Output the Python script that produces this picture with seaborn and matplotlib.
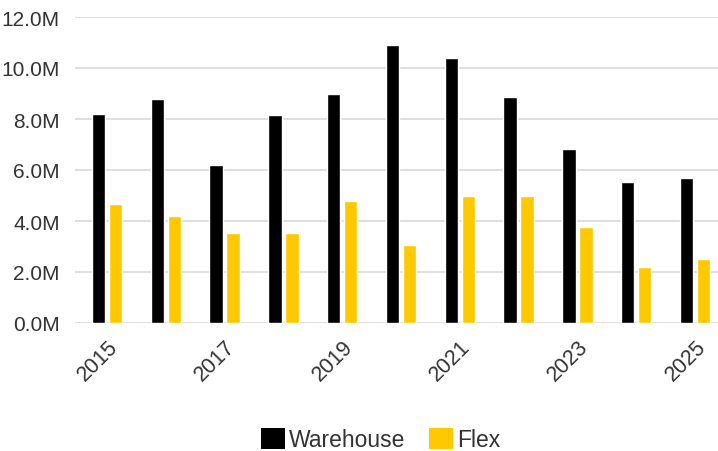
import matplotlib
matplotlib.use("Agg")
import matplotlib.pyplot as plt
import seaborn as sns
import pandas as pd
from matplotlib.ticker import FuncFormatter
from matplotlib.patches import Patch

years = [str(y) for y in range(2015, 2026)]
warehouse = [8.20, 8.78, 6.20, 8.17, 8.98, 10.90, 10.38, 8.85, 6.82, 5.53, 5.67]
flex = [4.67, 4.20, 3.52, 3.54, 4.80, 3.06, 4.98, 4.98, 3.75, 2.21, 2.52]
series = ["Warehouse", "Flex"]
colors = ["#000000", "#FFC900"]

df = pd.DataFrame({
    "Year": years * 2,
    "Value": warehouse + flex,
    "Type": [series[0]] * len(years) + [series[1]] * len(years),
})

sns.set_theme(style="white")
plt.rcParams["font.family"] = ["Liberation Sans", "DejaVu Sans"]

fig = plt.figure(figsize=(7.18, 4.52), dpi=100)
ax = fig.add_axes([75 / 718, (452 - 324) / 452, (718 - 75) / 718, (324 - 18) / 452])

sns.barplot(data=df, x="Year", y="Value", hue="Type", palette=colors,
            width=0.578, gap=0.21, ax=ax, legend=False, saturation=1)

ax.set_ylim(0, 12)
ax.set_xlim(-0.544, 10.39)
ax.set_yticks(range(0, 13, 2))
ax.yaxis.set_major_formatter(FuncFormatter(lambda v, p: f"{v:.1f}M"))
ax.grid(axis="y", color="#d9d9d9", linewidth=1.2)
ax.set_axisbelow(True)
for s in ax.spines.values():
    s.set_visible(False)
ax.set_xlabel("")
ax.set_ylabel("")

ax.set_xticks(range(0, len(years), 2))
ax.set_xticklabels(years[::2], rotation=45, ha="right", rotation_mode="anchor")
ax.tick_params(axis="x", length=0, pad=9, labelsize=15.5, labelcolor="#333333")
ax.tick_params(axis="y", length=0, pad=11, labelsize=15, labelcolor="#333333")

handles = [Patch(facecolor=c, edgecolor="none") for c in colors]
fig.legend(handles, series, loc="center", bbox_to_anchor=(0.53, 0.025), ncol=2,
           frameon=False, fontsize=16.5, handlelength=1.05, handleheight=1.05,
           handletextpad=0.2, columnspacing=1.0, labelcolor="#333333")

fig.savefig("out.png", dpi=100)
